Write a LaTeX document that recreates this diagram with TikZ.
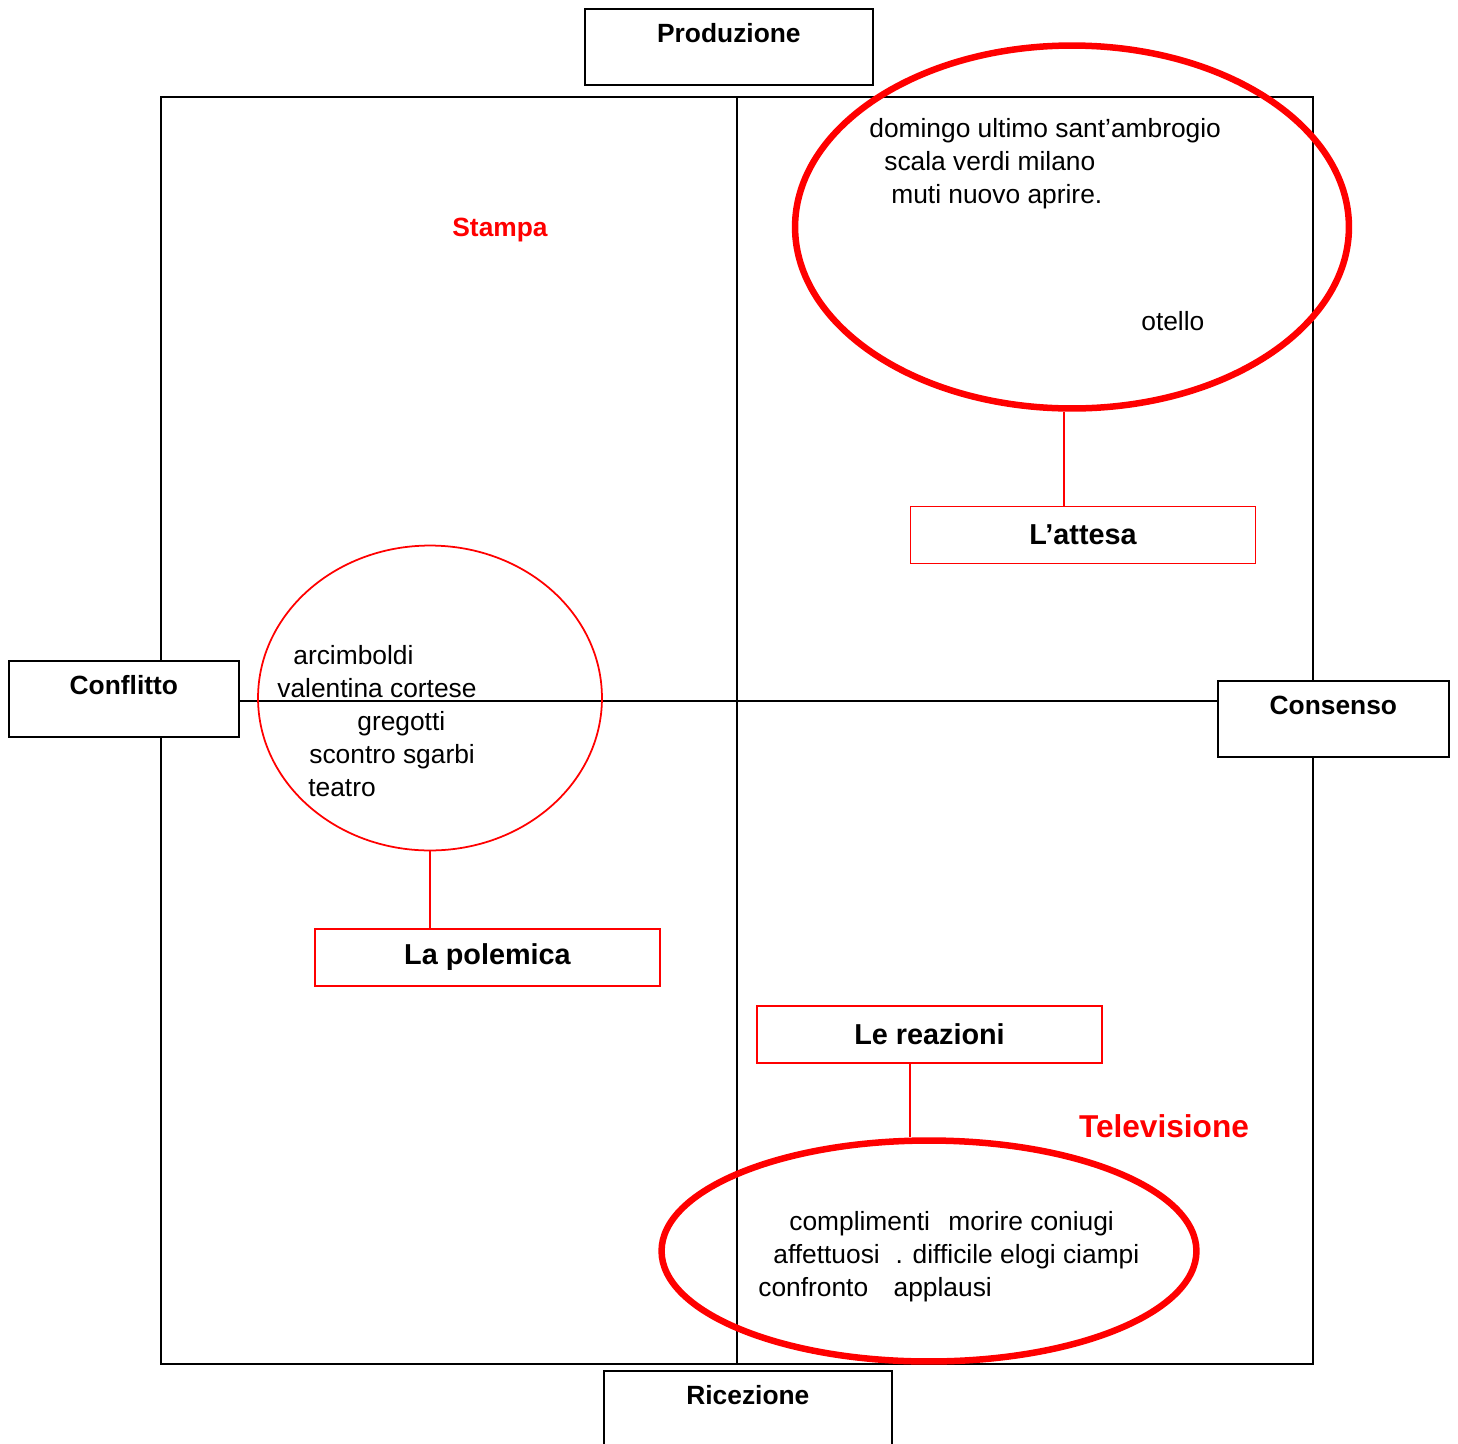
\documentclass[tikz,border=0pt]{standalone}
\usepackage{fontspec}
\setmainfont{Liberation Sans}
\usetikzlibrary{shapes.geometric}

\begin{document}
\begin{tikzpicture}[x=0.02cm, y=-0.02cm,
  axisbox/.style={rectangle, draw, fill=white, line width=1pt, inner sep=0pt,
    text height=19.3pt, text depth=24pt, anchor=north west,
    font=\fontsize{15}{18}\selectfont\bfseries},
  topicbox/.style={rectangle, draw=red, line width=1pt, inner sep=0pt,
    minimum width=6.9cm, minimum height=1.14cm,
    font=\fontsize{16.4}{19}\selectfont\bfseries},
  bigring/.style={ellipse, draw=red, line width=3.7pt, inner sep=0pt},
  thinring/.style={ellipse, draw=red, line width=1pt, inner sep=0pt},
  word/.style={anchor=base west, inner sep=0pt, font=\fontsize{15}{18}\selectfont},
  medium/.style={anchor=base, inner sep=0pt, text=red},
  link/.style={draw=red, line width=1pt}]
  \useasboundingbox (0,0) rectangle (1458,1444);
  % Frame
  \draw[line width=1pt] (161,97) rectangle (1313,1364);
  % Axes
  \node[axisbox, minimum width=5.76cm] (prod) at (584,8) {Produzione};
  \node[axisbox, minimum width=4.6cm] (conf) at (8,660) {Conflitto};
  \node[axisbox, minimum width=4.62cm] (cons) at (1217,680) {Consenso};
  \node[axisbox, minimum width=5.76cm] (ric) at (603,1370) {Ricezione};
  \draw[line width=0.9pt] (737,97) -- (737,1364);
  \draw[line width=0.9pt] (conf.east |- 0,701) -- (cons.west |- 0,701);
  % Media
  \node[medium, font=\fontsize{15}{18}\selectfont\bfseries] (stampa) at (500,236) {Stampa};
  \node[medium, font=\fontsize{18}{21}\selectfont\bfseries] (tv) at (1164,1137) {Televisione};
  % L'attesa
  \node[bigring, minimum width=11.08cm, minimum height=7.26cm] (attesa) at (1072,227) {};
  \node[word] (a1) at (869,137) {domingo ultimo sant’ambrogio};
  \node[word] (a2) at (884,170) {scala verdi milano};
  \node[word] (a3) at (891,203) {muti nuovo aprire.};
  \node[word] (a4) at (1141,330) {otello};
  \node[topicbox] (lattesa) at (1083,535) {L’attesa};
  \draw[link] ([xshift=-0.16cm]attesa.south) -- ([xshift=-0.16cm]attesa.south |- lattesa.north);
  % La polemica
  \node[thinring, minimum width=6.88cm, minimum height=6.1cm] (polemica) at (430,698) {};
  \node[word] (p1) at (293,664) {arcimboldi};
  \node[word] (p2) at (277,697) {valentina cortese};
  \node[word] (p3) at (357,730) {gregotti};
  \node[word] (p4) at (309,763) {scontro sgarbi};
  \node[word] (p5) at (308,796) {teatro};
  \node[topicbox] (lapolemica) at (487.5,957.5) {La polemica};
  \draw[link] (polemica.south) -- (polemica.south |- lapolemica.north);
  % Le reazioni
  \node[topicbox] (lereazioni) at (929.5,1034.5) {Le reazioni};
  \node[bigring, minimum width=10.7cm, minimum height=4.42cm] (reazioni) at (929,1251) {};
  \node[word] (r1) at (789,1230) {complimenti\hspace*{10.5pt}morire coniugi};
  \node[word] (r2) at (773,1263) {affettuosi\hspace*{9pt}. difficile elogi ciampi};
  \node[word] (r3) at (758,1296) {confronto\hspace*{14.5pt}applausi};
  \draw[link] ([xshift=-0.39cm]lereazioni.south) -- ([xshift=-0.39cm]lereazioni.south |- reazioni.north);
\end{tikzpicture}
\end{document}
